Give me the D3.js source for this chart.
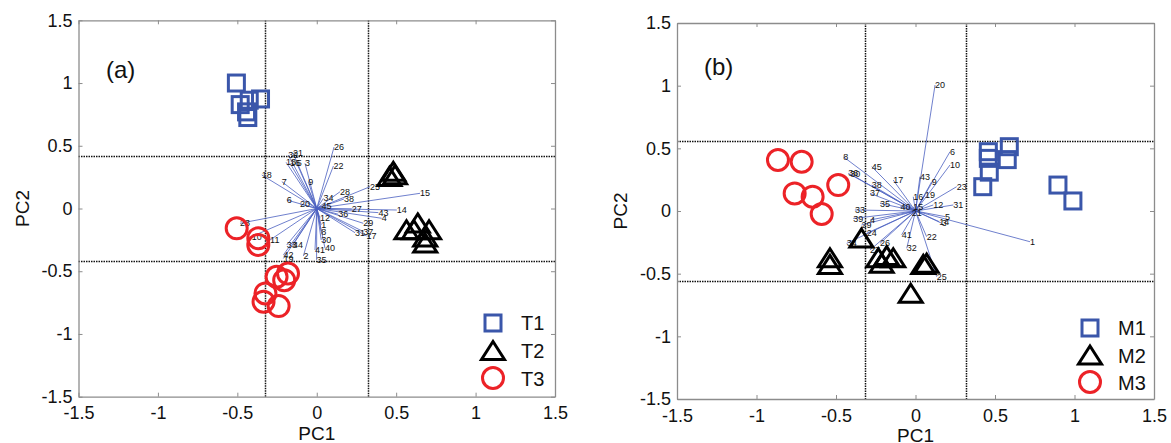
<!DOCTYPE html>
<html>
<head>
<meta charset="utf-8">
<script src="https://cdn.jsdelivr.net/npm/d3@7"></script>
<style>
body { margin: 0; background: #fff; }
svg { font-family: Arial, "Liberation Sans", sans-serif; }
</style>
</head>
<body>
<script>
// scores, panel (a)
const scoresT1 = [[-0.506,1.0],[-0.354,0.873],[-0.482,0.828],[-0.425,0.863],[-0.434,0.725],[-0.442,0.77]];
const scoresT2 = [[0.482,0.292],[0.458,0.252],[0.493,0.265],[0.565,-0.173],[0.636,-0.119],[0.707,-0.173],[0.612,-0.173],[0.683,-0.231],[0.683,-0.279]];
const scoresT3 = [[-0.504,-0.158],[-0.368,-0.237],[-0.368,-0.291],[-0.253,-0.544],[-0.181,-0.518],[-0.205,-0.571],[-0.323,-0.677],[-0.335,-0.743],[-0.24,-0.778]];
// scores, panel (b)
const scoresM1 = [[0.458,0.473],[0.458,0.42],[0.59,0.513],[0.577,0.41],[0.464,0.31],[0.423,0.194],[0.896,0.207],[0.99,0.08]];
const scoresM2 = [[-0.34,-0.22],[-0.538,-0.377],[-0.538,-0.43],[-0.234,-0.377],[-0.181,-0.36],[-0.14,-0.377],[-0.213,-0.42],[0.049,-0.43],[0.07,-0.42],[-0.03,-0.66]];
const scoresM3 = [[-0.865,0.407],[-0.716,0.393],[-0.76,0.14],[-0.647,0.114],[-0.59,-0.024],[-0.486,0.207]];

// loadings: [label, PC1, PC2]
const loadingsA = [
  ['1',0.028,-0.131],['2',-0.084,-0.378],['3',-0.074,0.36],['4',0.409,-0.078],['5',-0.126,0.36],
  ['6',-0.189,0.068],['7',-0.22,0.214],['8',0.028,-0.184],['9',-0.053,0.214],['10',-0.41,-0.224],
  ['11',-0.294,-0.251],['12',0.021,-0.078],['13',-0.193,0.368],['14',0.504,-0.012],['15',0.65,0.121],
  ['16',-0.168,0.36],['17',0.314,-0.219],['18',-0.346,0.267],['19',-0.21,-0.398],['20',-0.105,0.036],
  ['21',-0.149,0.442],['22',0.105,0.339],['23',-0.483,-0.118],['25',0.336,0.174],['26',0.109,0.49],
  ['27',0.22,-0.004],['28',0.147,0.134],['29',0.293,-0.118],['30',0.028,-0.251],['31',0.241,-0.193],
  ['32',-0.179,0.426],['33',-0.189,-0.291],['34',0.042,0.081],['35',-0.001,-0.41],['36',0.136,-0.046],
  ['37',0.293,-0.184],['38',0.172,0.076],['40',0.052,-0.317],['41',-0.011,-0.331],['42',-0.21,-0.37],
  ['43',0.388,-0.033],['44',-0.15,-0.291],['45',0.03,0.018]
];
const loadingsB = [
  ['1',0.72,-0.245],['3',0.165,-0.098],['4',-0.286,-0.072],['5',0.186,-0.045],['6',0.217,0.473],
  ['8',-0.454,0.433],['9',0.102,0.234],['10',0.217,0.367],['12',0.112,0.048],['14',0.149,-0.085],
  ['15',-0.014,0.034],['16',-0.014,0.114],['17',-0.14,0.247],['19',0.06,0.128],['20',0.123,1.005],
  ['21',-0.024,-0.018],['22',0.07,-0.205],['23',0.259,0.194],['24',-0.307,-0.178],['25',0.133,-0.524],
  ['26',-0.223,-0.258],['27',-0.286,-0.311],['29',-0.34,-0.112],['30',-0.41,0.295],['31',0.238,0.048],
  ['32',-0.055,-0.298],['33',-0.381,0.008],['34',-0.433,-0.258],['35',-0.223,0.061],['36',-0.423,0.301],
  ['37',-0.286,0.141],['38',-0.275,0.207],['39',-0.391,-0.06],['40',-0.095,0.035],['41',-0.087,-0.19],
  ['43',0.028,0.274],['45',-0.275,0.354]
];

const ticks = [-1.5,-1,-0.5,0,0.5,1,1.5];
const tickLabels = ['-1.5','-1','-0.5','0','0.5','1','1.5'];
const cutA = [0.325, 0.42];
const cutB = [0.32, 0.555];

const blue = '#3a56aa', red = '#ec2227', grey = '#8c8c8c';

const svg = d3.select('body').append('svg').attr('width',1171).attr('height',443);

function panel(cfg) {
  const x = d3.scaleLinear().domain([-1.5,1.5]).range(cfg.xr);
  const y = d3.scaleLinear().domain([-1.5,1.5]).range(cfg.yr);
  const g = svg.append('g');
  const px = v => Math.round(v) + 0.5;

  // dotted cut-off lines
  [-cfg.cut[0], cfg.cut[0]].forEach(v => {
    g.append('line').attr('x1',px(x(v))).attr('x2',px(x(v))).attr('y1',y(1.5)).attr('y2',y(-1.5))
      .style('stroke','#111').style('stroke-width',1.5).style('stroke-dasharray','1.5,1');
  });
  [-cfg.cut[1], cfg.cut[1]].forEach(v => {
    g.append('line').attr('x1',x(-1.5)).attr('x2',x(1.5)).attr('y1',px(y(v))).attr('y2',px(y(v)))
      .style('stroke','#111').style('stroke-width',1.5).style('stroke-dasharray','1.5,1');
  });

  // loading vectors
  g.selectAll('line.vec').data(cfg.load).join('line').attr('class','vec')
    .attr('x1',x(0)).attr('y1',y(0)).attr('x2',d => x(d[1])).attr('y2',d => y(d[2]))
    .style('stroke','#4a5fc0').style('stroke-width',0.8);
  g.selectAll('text.vl').data(cfg.load).join('text').attr('class','vl')
    .attr('x',d => x(d[1])).attr('y',d => y(d[2])).attr('dy','0.35em')
    .style('font-size','9px').style('fill','#111').text(d => d[0]);

  // axes box
  const xAxisB = d3.axisBottom(x).tickValues(ticks).tickFormat((d,i) => tickLabels[i]).tickSizeInner(-4).tickSizeOuter(0).tickPadding(10);
  const xAxisT = d3.axisTop(x).tickValues(ticks).tickFormat('').tickSizeInner(-4).tickSizeOuter(0);
  const yAxisL = d3.axisLeft(y).tickValues(ticks).tickFormat((d,i) => tickLabels[i]).tickSizeInner(-4).tickSizeOuter(0).tickPadding(6);
  const yAxisR = d3.axisRight(y).tickValues(ticks).tickFormat('').tickSizeInner(-4).tickSizeOuter(0);
  const axes = [
    g.append('g').attr('transform',`translate(0,${cfg.yr[0]})`).call(xAxisB),
    g.append('g').attr('transform',`translate(0,${cfg.yr[1]})`).call(xAxisT),
    g.append('g').attr('transform',`translate(${cfg.xr[0]},0)`).call(yAxisL),
    g.append('g').attr('transform',`translate(${cfg.xr[1]},0)`).call(yAxisR)
  ];
  axes.forEach(a => {
    a.select('.domain').style('stroke',grey).style('stroke-width',1.3);
    a.selectAll('.tick line').style('stroke',grey);
    a.selectAll('text').style('font-size','18px').style('fill','#111').style('font-family','Arial, "Liberation Sans", sans-serif');
  });

  // markers
  const sq = 16, tri = 'M0,-9.5L11.5,8.5L-11.5,8.5Z';
  g.selectAll('rect.s1').data(cfg.s1).join('rect').attr('class','s1')
    .attr('x',d => x(d[0]) - sq/2).attr('y',d => y(d[1]) - sq/2).attr('width',sq).attr('height',sq)
    .style('fill','none').style('stroke',blue).style('stroke-width',3);
  g.selectAll('path.s2').data(cfg.s2).join('path').attr('class','s2')
    .attr('d',tri).attr('transform',d => `translate(${x(d[0])},${y(d[1])})`)
    .style('fill','none').style('stroke','#000').style('stroke-width',3);
  g.selectAll('circle.s3').data(cfg.s3).join('circle').attr('class','s3')
    .attr('cx',d => x(d[0])).attr('cy',d => y(d[1])).attr('r',10.5)
    .style('fill','none').style('stroke',red).style('stroke-width',3);

  // legend
  const lg = g.append('g').attr('transform',`translate(${cfg.leg[0]},${cfg.leg[1]})`);
  lg.append('rect').attr('x',-sq/2).attr('y',-sq/2).attr('width',sq).attr('height',sq)
    .style('fill','none').style('stroke',blue).style('stroke-width',3);
  lg.append('path').attr('d',tri).attr('transform',`translate(0,${cfg.legStep})`)
    .style('fill','none').style('stroke','#000').style('stroke-width',3);
  lg.append('circle').attr('cx',0).attr('cy',cfg.legStep*2 - 1).attr('r',10.5)
    .style('fill','none').style('stroke',red).style('stroke-width',3);
  cfg.names.forEach((n,i) => {
    lg.append('text').attr('x',28).attr('y',i*cfg.legStep).attr('dy','0.36em')
      .style('font-size','20px').style('fill','#111').text(n);
  });

  // titles
  g.append('text').attr('x',cfg.tag[0]).attr('y',cfg.tag[1]).style('font-size','24px').style('fill','#111').text(cfg.tagText);
  g.append('text').attr('x',(cfg.xr[0]+cfg.xr[1])/2).attr('y',cfg.yr[0]+43).attr('text-anchor','middle')
    .style('font-size','19px').style('fill','#111').text('PC1');
  g.append('text').attr('transform',`translate(${cfg.xr[0]-50},${(cfg.yr[0]+cfg.yr[1])/2}) rotate(-90)`)
    .attr('text-anchor','middle').style('font-size','19px').style('fill','#111').text('PC2');
}

panel({xr:[78.5,555], yr:[396.7,20.3], cut:cutA, load:loadingsA, s1:scoresT1, s2:scoresT2, s3:scoresT3,
  leg:[493,323], legStep:28, names:['T1','T2','T3'], tag:[106,78], tagText:'(a)'});
panel({xr:[677,1154], yr:[399,23], cut:cutB, load:loadingsB, s1:scoresM1, s2:scoresM2, s3:scoresM3,
  leg:[1090,328], legStep:27.5, names:['M1','M2','M3'], tag:[704,75], tagText:'(b)'});
</script>
</body>
</html>
